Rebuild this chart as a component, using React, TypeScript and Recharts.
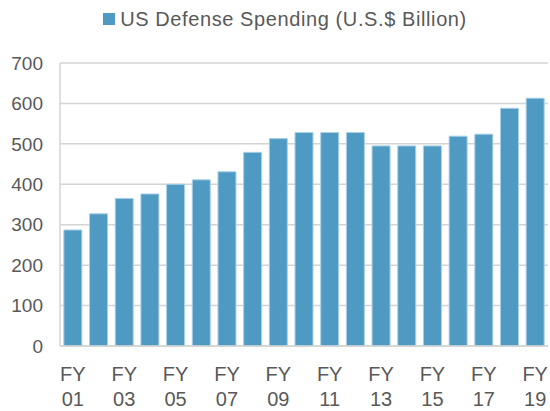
import React from 'react';
import { BarChart, Bar, XAxis, YAxis, CartesianGrid, Legend } from 'recharts';

const categories = ['FY 01','FY 02','FY 03','FY 04','FY 05','FY 06','FY 07','FY 08','FY 09','FY 10','FY 11','FY 12','FY 13','FY 14','FY 15','FY 16','FY 17','FY 18','FY 19'];
const spending = [287, 327, 365, 376, 400, 411, 431, 479, 513, 528, 528, 528, 495, 495, 495, 519, 524, 588, 613];
const yTicks = [0, 100, 200, 300, 400, 500, 600, 700];
const seriesName = 'US Defense Spending (U.S.$ Billion)';

const data = categories.map((c, i) => ({ name: c, value: spending[i] }));

const FONT = '"Liberation Sans", Arial, sans-serif';
const TEXT = '#595959';
const BAR = '#4F9AC2';

const XTick = (props: any) => {
  const { x, y, payload } = props;
  const parts = String(payload.value).split(' ');
  return (
    <g transform={`translate(${x},${y})`}>
      <text textAnchor="middle" fill={TEXT} fontSize={20} fontFamily={FONT}>
        <tspan x={0} y={27}>{parts[0]}</tspan>
        <tspan x={0} y={52}>{parts[1]}</tspan>
      </text>
    </g>
  );
};

const LegendContent = () => (
  <div style={{ height: 30, display: 'flex', justifyContent: 'center', alignItems: 'center', fontFamily: FONT, fontSize: 20, letterSpacing: 0.6, color: TEXT }}>
    <span style={{ display: 'inline-block', width: 12, height: 12, background: BAR, marginRight: 5 }} />
    <span>{seriesName}</span>
  </div>
);

export default function App() {
  return (
    <div style={{ position: 'absolute', left: 0, top: 0 }}>
      <BarChart width={550} height={411} data={data} margin={{ top: 33, right: 2, bottom: 0, left: 0 }} barCategoryGap="15%">
        <Legend verticalAlign="top" content={<LegendContent />} wrapperStyle={{ top: 4, left: 0, width: 570 }} />
        <CartesianGrid vertical={false} stroke="#D4D4D4" strokeWidth={1.5} />
        <XAxis dataKey="name" interval={1} tick={<XTick />} tickLine={false} axisLine={{ stroke: '#D4D4D4', strokeWidth: 1.5 }} height={65} />
        <YAxis domain={[0, 700]} ticks={yTicks} width={60} tickLine={false} tickSize={6} tickMargin={11} axisLine={{ stroke: '#D4D4D4', strokeWidth: 1.5 }} tick={{ fill: TEXT, fontSize: 19, fontFamily: FONT }} />
        <Bar dataKey="value" name={seriesName} fill={BAR} stroke="#A9D0E6" strokeWidth={1} isAnimationActive={false} />
      </BarChart>
    </div>
  );
}
